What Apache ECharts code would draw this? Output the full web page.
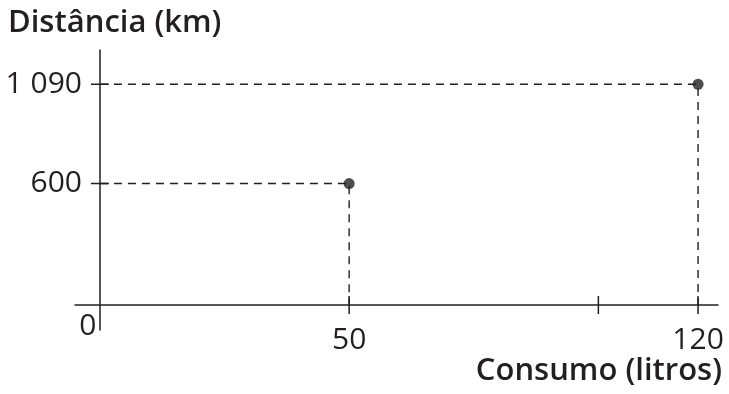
<!DOCTYPE html>
<html><head><meta charset="utf-8">
<script src="https://cdn.jsdelivr.net/npm/echarts@6/dist/echarts.min.js"></script>
<style>html,body{margin:0;padding:0;background:#fff}#c{width:729px;height:394px}</style>
</head><body><div id="c"></div>
<script>
// Data
const points = [[50, 600], [120, 1090]];
const xTickValues = [50, 100, 120];
const xLabelValues = [50, 120];
const yTickValues = [600, 1090];
const yTickLabels = {600: '600', 1090: '1 090'};
const originLabel = '0';
const yTitle = 'Distância (km)';
const xTitle = 'Consumo (litros)';

const ink = '#231f20';
const font = 'Open Sans';
const fs = 30;
const fw = 'normal';
const titleFs = 31;
const titleFw = 600;

const chart = echarts.init(document.getElementById('c'), null, {renderer: 'canvas'});

const guideSeries = points.map(p => ({
  type: 'line',
  data: [[0, p[1]], [p[0], p[1]], [p[0], 0]],
  symbol: 'none',
  silent: true,
  lineStyle: {color: ink, width: 1.4, type: [8, 6]},
  z: 2
}));

const tickData = xTickValues.map(v => [v, 0, 'x']).concat(yTickValues.map(v => [0, v, 'y']));

chart.setOption({
  animation: false,
  title: [
    {text: yTitle, left: 8, top: 8, padding: 0, textStyle: {fontFamily: font, fontSize: titleFs, fontWeight: titleFw, color: ink}},
    {text: xTitle, right: 7, top: 356, padding: 0, textStyle: {fontFamily: font, fontSize: titleFs, fontWeight: titleFw, color: ink}}
  ],
  grid: {left: 75, top: 50, width: 643, height: 280, outerBoundsMode: 'none', containLabel: false},
  xAxis: {
    type: 'value', min: -5, max: 124,
    axisLine: {onZero: true, lineStyle: {color: ink, width: 1.5}},
    axisTick: {show: false},
    splitLine: {show: false},
    axisLabel: {customValues: xLabelValues, margin: -5, fontFamily: font, fontSize: fs, fontWeight: fw, color: ink}
  },
  yAxis: {
    type: 'value', min: -123, max: 1259,
    axisLine: {onZero: true, lineStyle: {color: ink, width: 1.5}},
    axisTick: {show: false},
    splitLine: {show: false},
    axisLabel: {customValues: yTickValues, margin: -7, fontFamily: font, fontSize: fs, fontWeight: fw, color: ink,
      formatter: v => yTickLabels[v]}
  },
  series: guideSeries.concat([
    {
      type: 'custom',
      data: tickData,
      silent: true,
      renderItem: (params, api) => {
        const c = api.coord([api.value(0), api.value(1)]);
        const isX = tickData[params.dataIndex][2] === 'x';
        const L = 9;
        const shape = isX ? {x1: c[0], y1: c[1] - L, x2: c[0], y2: c[1] + L}
                          : {x1: c[0] - L, y1: c[1], x2: c[0] + L, y2: c[1]};
        return {type: 'line', shape, style: {stroke: ink, lineWidth: 1.5}};
      },
      z: 3
    },
    {
      type: 'scatter',
      data: points,
      symbol: 'circle',
      symbolSize: 11,
      itemStyle: {color: ink},
      z: 5
    },
    {
      type: 'scatter',
      data: [[0, 0]],
      symbolSize: 1,
      silent: true,
      itemStyle: {color: 'rgba(0,0,0,0)'},
      label: {show: true, formatter: originLabel, position: 'inside', offset: [-12, 21],
        fontFamily: font, fontSize: fs, fontWeight: fw, color: ink, opacity: 1},
      z: 6
    }
  ])
});
</script></body></html>
